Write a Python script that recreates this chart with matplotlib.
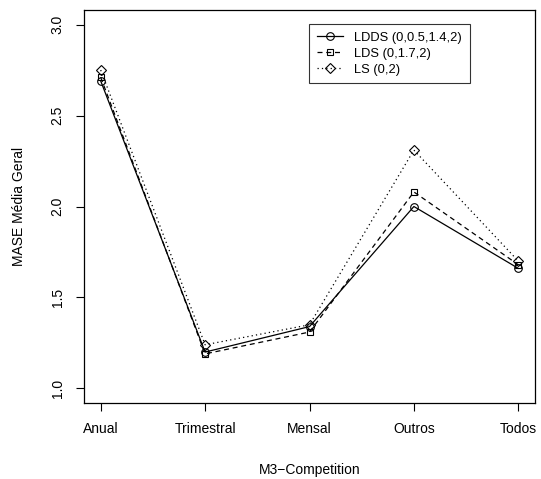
import matplotlib
matplotlib.use("Agg")
import matplotlib.pyplot as plt

categories = ["Anual", "Trimestral", "Mensal", "Outros", "Todos"]
ldds = [2.69, 1.20, 1.34, 2.00, 1.66]
lds = [2.71, 1.19, 1.31, 2.08, 1.68]
ls = [2.75, 1.24, 1.35, 2.31, 1.70]
series_names = ["LDDS (0,0.5,1.4,2)", "LDS (0,1.7,2)", "LS (0,2)"]
yticks = [1.0, 1.5, 2.0, 2.5, 3.0]

plt.rcParams['font.family'] = ['Liberation Sans', 'DejaVu Sans']

fig = plt.figure(figsize=(5.41, 4.79), dpi=100)
ax = fig.add_axes([84/541, 76/479, (535-84)/541, (403-10)/479])

x = list(range(1, len(categories) + 1))
ms = 5.5
ax.plot(x, ldds, color='black', lw=0.9, ls='-', marker='o', mfc='none', mec='black', ms=ms, mew=0.8, label=series_names[0])
ax.plot(x, lds, color='black', lw=0.9, ls=(0, (4, 3)), marker='s', mfc='none', mec='black', ms=ms-0.5, mew=0.8, label=series_names[1])
ax.plot(x, ls, color='black', lw=0.9, ls=(0, (1, 2.5)), marker='D', mfc='none', mec='black', ms=ms-0.5, mew=0.8, label=series_names[2])

ext_x = 0.04 * (x[-1] - x[0])
ax.set_xlim(x[0] - ext_x, x[-1] + ext_x)
ext_y = 0.04 * (3.0 - 1.0)
ax.set_ylim(1.0 - ext_y, 3.0 + ext_y)

ax.set_xticks(x)
ax.set_xticklabels(categories, fontsize=10)
ax.set_yticks(yticks)
ax.set_yticklabels([f"{v:.1f}" for v in yticks], fontsize=10, rotation=90, va='center')
ax.tick_params(axis='both', direction='out', length=6, width=0.8, color='black')
ax.tick_params(axis='x', pad=8)
ax.tick_params(axis='y', pad=8)
for s in ax.spines.values():
    s.set_linewidth(0.9)
    s.set_color('black')

ax.set_xlabel("M3\u2212Competition", fontsize=10, labelpad=19)
ax.set_ylabel("MASE Média Geral", fontsize=10, labelpad=18)

leg = ax.legend(loc='upper left', bbox_to_anchor=((309-84)/451, (403-24)/393),
                fontsize=9.3, frameon=True, fancybox=False, edgecolor='black',
                handlelength=2.0, borderpad=0.6, labelspacing=0.3, handletextpad=0.9,
                borderaxespad=0)
leg.get_frame().set_linewidth(0.8)

fig.savefig("out.png", dpi=100)
